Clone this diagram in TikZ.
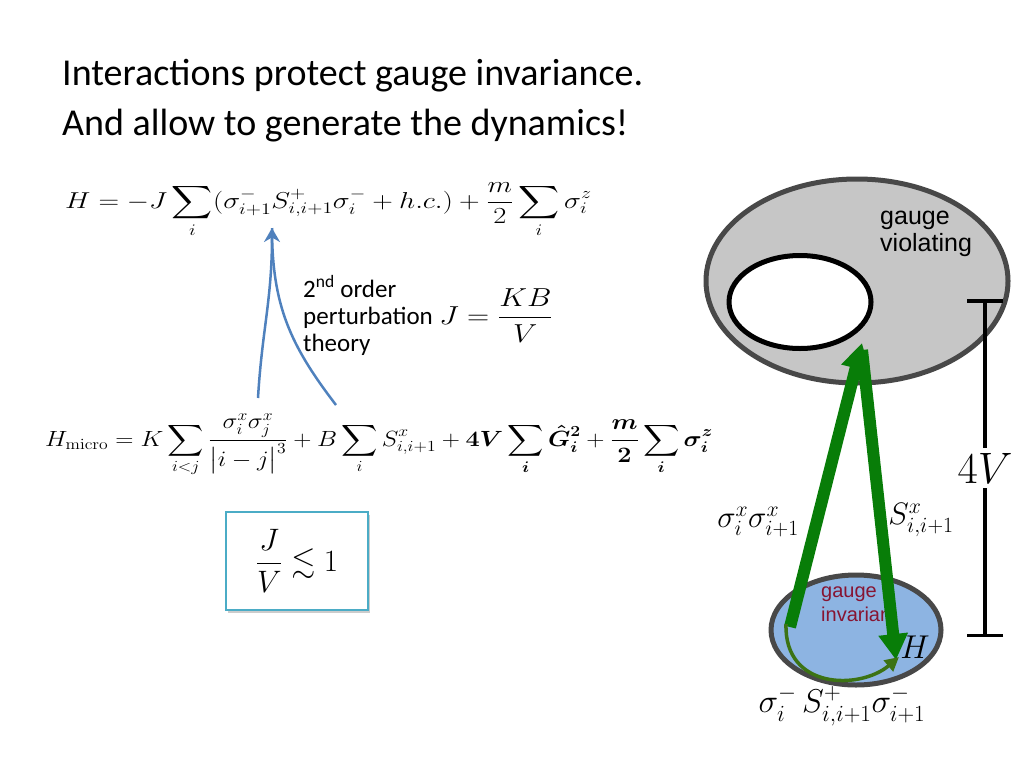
\RequirePackage{fix-cm}
\documentclass[tikz,border=0pt]{standalone}
\usepackage{amsmath}
\usepackage{amssymb}
\usepackage[no-math]{fontspec}
\setmainfont{Carlito}
\newfontfamily\arialfont{Liberation Sans}
\usetikzlibrary{arrows.meta,positioning,shapes.geometric,shadows}
\definecolor{slideblue}{RGB}{79,129,189}
\definecolor{arrowgreen}{RGB}{8,125,8}
\definecolor{curvegreen}{RGB}{60,115,20}
\definecolor{violgray}{RGB}{198,198,198}
\definecolor{rimgray}{RGB}{72,72,72}
\definecolor{invblue}{RGB}{141,180,226}
\definecolor{boxteal}{RGB}{75,172,198}
\definecolor{invred}{RGB}{135,20,50}
\tikzset{
  eq/.style={inner sep=0pt, font=\fontsize{22}{26}\selectfont},
  sector/.style={ellipse, inner sep=0pt, line width=5pt, draw=rimgray},
  greenarrow/.style={arrowgreen, line width=12pt, -{Triangle[length=26pt,width=28pt]}},
  bluearrow/.style={slideblue, line width=2.5pt},
  sigmalabel/.style={inner sep=0pt, font=\fontsize{31}{36}\selectfont}
}
\begin{document}
\begin{tikzpicture}[x=1pt,y=-1pt]
\useasboundingbox (0,0) rectangle (1024,768);
\node[anchor=base west, inner sep=0pt, font=\fontsize{38}{50}\selectfont] (title1) at (62,85) {Interactions protect gauge invariance.};
\node[anchor=base west, inner sep=0pt, font=\fontsize{38}{50}\selectfont] (title2) at (62,135) {And allow to generate the dynamics!};
\node[eq, anchor=base west, xscale=1.24, font=\fontsize{23}{26}\selectfont] (heff) at (65,208) {$\displaystyle H=-J\sum_i(\sigma^-_{i+1}S^+_{i,i+1}\sigma^-_i+h.c.)+\frac{m}{2}\sum_i\sigma^z_i$};
\node[eq, anchor=base west, xscale=1.145] (hmicro) at (45,446) {$\displaystyle H_{\mathrm{micro}}=K\sum_{i<j}\frac{\sigma^x_i\sigma^x_j}{\bigl|i-j\bigr|^3}+B\sum_i S^x_{i,i+1}+\boldsymbol{4V}\sum_{\boldsymbol{i}}\boldsymbol{\hat G^2_i}+\boldsymbol{\frac{m}{2}}\sum_{\boldsymbol{i}}\boldsymbol{\sigma^z_i}$};
\node[anchor=base west, align=left, inner sep=0pt, font=\fontsize{25}{27}\selectfont] (pert) at (303,351) {2\textsuperscript{nd} order\\perturbation\\theory};
\node[eq, right=6pt of pert, xscale=1.18, font=\fontsize{26}{30}\selectfont] (jkb) {$J=\dfrac{KB}{V}$};
\coordinate (tip) at (272,228);
\coordinate (leg1) at (258,398);
\coordinate (leg2) at (336,405);
\draw[bluearrow, -{Stealth[length=14pt,width=16pt]}] (leg1) .. controls (262,330) and (272,300) .. (tip);
\draw[bluearrow] (leg2) .. controls (290,345) and (272,305) .. (tip);
\node[draw=boxteal, line width=2.5pt, fill=white, drop shadow={shadow xshift=2pt, shadow yshift=-3pt, opacity=0.4},
  minimum width=142pt, minimum height=98pt, font=\fontsize{31}{36}\selectfont] (ratio) at (297,561) {$\dfrac{J}{V}\lesssim 1$};
\node[sector, fill=violgray, minimum width=302pt, minimum height=204pt] (viol) at (857,281) {};
\node[ellipse, inner sep=0pt, line width=5pt, draw=black, fill=white, minimum width=142pt, minimum height=93pt] (hole) at (800,302) {};
\node[anchor=base west, align=left, inner sep=0pt, font=\arialfont\fontsize{25}{27}\selectfont] (violtxt) at (880,251) {gauge\\violating};
\node[sector, fill=invblue, minimum width=170pt, minimum height=110pt] (inv) at (856,630) {};
\begin{scope}
\clip (810,575) rectangle (889,630);
\node[anchor=base west, align=left, inner sep=0pt, text=invred, font=\arialfont\fontsize{20}{24}\selectfont] (invtxt) at (821,621) {gauge\\invariant};
\end{scope}
\coordinate (up1) at (790,627);
\coordinate (up2) at (862,343);
\coordinate (dn1) at (862,350);
\coordinate (dn2) at (896,660);
\coordinate (bend1) at (786,624);
\coordinate (bend2) at (899,657);
\draw[greenarrow] (up1) -- (up2);
\draw[greenarrow] (dn1) -- (dn2);
\draw[curvegreen, line width=3.5pt, -{Triangle[length=14pt,width=14pt]}] (bend1) .. controls (784,690) and (860,690) .. (bend2);
\node[sigmalabel, font=\fontsize{33}{36}\selectfont] (hnode) at (915,647) {$H$};
\coordinate (bar1) at (985,299);
\coordinate (bar2) at (985,637);
\draw[line width=3.5pt, {Bar[width=36pt]}-{Bar[width=36pt]}] (bar1) -- (bar2) node[midway, fill=white, inner sep=5pt, font=\fontsize{44}{48}\selectfont] (fourv) {$4V$};
\node[sigmalabel] (xx) at (758,522) {$\sigma^x_i\sigma^x_{i+1}$};
\node[sigmalabel] (sx) at (921,520) {$S^x_{i,i+1}$};
\node[sigmalabel, font=\fontsize{33}{36}\selectfont] (hop) at (842,706) {$\sigma^-_i\,S^+_{i,i+1}\sigma^-_{i+1}$};
\end{tikzpicture}
\end{document}
